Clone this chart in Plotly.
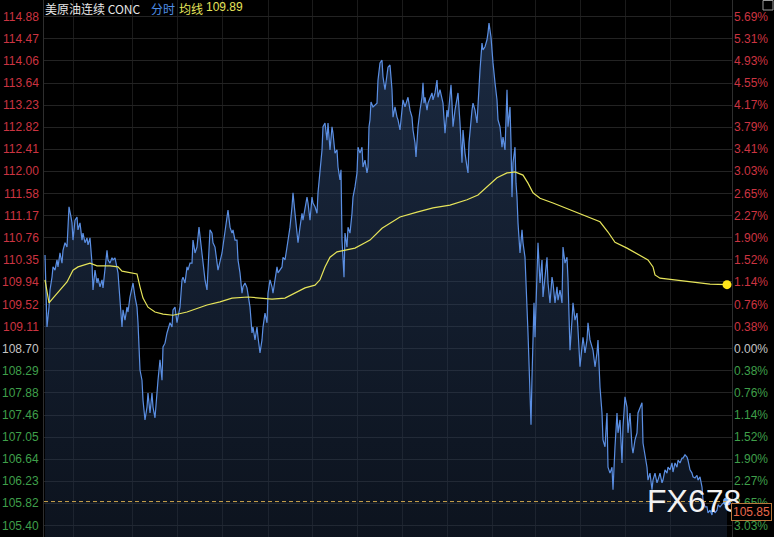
import plotly.graph_objects as go

# ---------------- data ----------------
minutes = [0, 2, 4, 8, 10, 14, 16, 20, 24, 26, 30, 34, 36, 40, 44, 46, 48, 52, 54, 56,
           60, 64, 66, 70, 74, 76, 80, 84, 86, 90, 94, 96, 100, 104, 106, 110, 114, 116, 120, 124,
           126, 130, 134, 136, 140, 144, 146, 150, 154, 156, 160, 164, 166, 170, 176, 180, 184, 186, 190, 194,
           196, 200, 204, 206, 210, 214, 216, 220, 224, 226, 230, 234, 236, 240, 244, 246, 250, 254, 256, 260,
           264, 266, 270, 274, 276, 280, 284, 286, 290, 294, 296, 300, 304, 308, 314, 316, 320, 324, 326, 330,
           334, 336, 340, 344, 346, 354, 360, 366, 370, 374, 376, 380, 384, 386, 390, 394, 396, 400, 404, 406,
           410, 414, 416, 420, 424, 426, 430, 434, 436, 440, 444, 446, 450, 454, 456, 460, 464, 466, 470, 474,
           476, 480, 484, 486, 490, 494, 496, 500, 504, 506, 510, 514, 516, 520, 524, 526, 530, 534, 536, 540,
           544, 546, 550, 554, 556, 560, 564, 566, 570, 574, 576, 580, 584, 586, 590, 592, 594, 598, 600, 604,
           606, 610, 614, 616, 620, 624, 626, 630, 634, 636, 640, 644, 646, 648, 650, 652, 656, 660, 664, 666,
           670, 674, 676, 680, 684, 686, 690, 694, 696, 700, 704, 706, 710, 714, 716, 720, 724, 726, 730, 734,
           736, 740, 742, 744, 746, 750, 754, 756, 758, 760, 764, 766, 770, 774, 776, 780, 784, 786, 790, 794,
           796, 800, 804, 806, 810, 812, 814, 816, 820, 824, 826, 830, 834, 836, 840, 844, 846, 848, 852, 854,
           856, 860, 864, 866, 870, 874, 876, 880, 884, 886, 888, 892, 894, 896, 900, 904, 906, 910, 914, 916,
           920, 924, 926, 930, 932, 934, 936, 940, 942, 944, 946, 950, 954, 956, 960, 964, 966, 970, 972, 974,
           976, 978, 980, 984, 986, 990, 994, 996, 1000, 1004, 1006, 1010, 1014, 1016, 1020, 1024, 1026, 1030, 1034, 1036,
           1040, 1044, 1046, 1050, 1054, 1056, 1060, 1064, 1066, 1070, 1074, 1076, 1080, 1084, 1086, 1090, 1094, 1096, 1100, 1104,
           1106, 1110, 1114, 1116, 1120, 1124, 1126, 1130, 1134, 1136, 1140, 1144, 1146, 1150, 1154, 1156, 1160, 1164, 1166, 1170,
           1174, 1176, 1180, 1184, 1186, 1190, 1194, 1196, 1200, 1204, 1206, 1210, 1214, 1216, 1220, 1224, 1226, 1230, 1234, 1236,
           1240, 1244, 1246, 1250, 1254, 1256, 1260, 1264, 1266, 1270, 1274, 1276, 1280, 1284, 1286, 1290, 1294, 1296, 1300, 1304,
           1306, 1310, 1314, 1316, 1320, 1324, 1326, 1330, 1334, 1336, 1340, 1344, 1346, 1350, 1356, 1364]

price = [110.44, 109.79, 109.10, 109.47, 109.79, 110.03, 110.22, 110.16, 110.35, 110.22, 110.48, 110.29, 110.53, 110.67, 110.59, 110.96, 111.34, 111.15, 111.04, 110.72,
         111.09, 111.15, 110.91, 111.04, 110.72, 110.85, 110.67, 110.76, 110.63, 110.76, 110.29, 109.79, 110.16, 109.92, 110.01, 109.85, 109.98, 109.83, 110.16, 110.53,
         110.35, 110.29, 110.39, 110.35, 110.39, 110.22, 110.11, 109.60, 109.10, 109.42, 109.23, 109.47, 109.38, 109.66, 109.92, 109.66, 109.47, 109.18, 108.30, 108.11,
         107.74, 107.37, 107.61, 107.87, 107.50, 107.87, 107.61, 107.41, 107.98, 108.11, 108.49, 108.11, 108.73, 108.80, 108.99, 109.05, 109.18, 109.10, 109.42, 109.47,
         109.18, 109.29, 109.47, 109.98, 110.03, 109.92, 110.22, 110.16, 110.29, 110.29, 110.72, 110.48, 110.59, 110.96, 110.48, 110.22, 109.98, 109.79, 110.22, 110.91,
         110.85, 110.67, 110.59, 110.35, 110.16, 110.48, 110.85, 111.28, 110.96, 110.85, 110.91, 110.72, 110.72, 110.35, 110.11, 109.73, 109.85, 109.92, 109.83, 109.73,
         109.47, 108.99, 109.10, 108.86, 109.10, 108.91, 108.62, 108.86, 109.10, 109.36, 109.18, 109.73, 109.98, 109.85, 109.73, 109.98, 110.22, 110.11, 110.16, 110.22,
         110.40, 110.35, 110.59, 110.72, 110.96, 111.34, 111.60, 111.22, 110.85, 110.67, 110.96, 111.22, 111.09, 111.28, 111.52, 111.41, 111.09, 111.52, 111.41, 111.34,
         111.22, 111.60, 111.97, 112.40, 112.83, 112.90, 112.58, 112.90, 112.40, 112.83, 112.71, 112.34, 112.40, 112.08, 111.84, 112.03, 110.72, 110.03, 110.85, 110.59,
         110.96, 110.85, 111.22, 111.52, 111.71, 111.97, 112.45, 112.34, 112.45, 112.08, 112.21, 111.97, 112.08, 112.83, 112.96, 113.29, 113.20, 113.24, 113.27, 113.70,
         114.02, 114.07, 113.76, 113.52, 113.83, 113.94, 113.98, 113.52, 113.01, 113.20, 113.01, 112.96, 112.77, 113.14, 113.33, 113.20, 113.33, 113.38, 113.14, 113.01,
         112.77, 112.53, 112.27, 112.64, 112.83, 113.14, 113.38, 113.65, 113.27, 113.38, 113.14, 113.27, 113.38, 113.46, 113.33, 113.46, 113.70, 113.38, 113.52, 113.33,
         113.27, 112.71, 113.14, 113.01, 113.52, 113.61, 113.27, 112.83, 113.14, 113.33, 113.46, 112.90, 112.16, 112.77, 112.34, 112.08, 111.97, 112.53, 113.01, 113.14,
         113.27, 113.14, 112.90, 113.27, 113.89, 114.39, 114.26, 114.32, 114.45, 114.58, 114.76, 114.50, 114.13, 114.02, 113.65, 113.33, 112.96, 112.83, 112.45, 112.64,
         112.40, 113.52, 112.83, 113.20, 112.53, 111.52, 112.16, 112.45, 111.78, 111.52, 111.04, 110.48, 110.91, 110.67, 110.40, 109.60, 108.99, 107.87, 107.28, 108.17,
         109.10, 109.55, 108.91, 110.03, 110.67, 109.92, 110.35, 109.66, 110.03, 110.40, 109.92, 109.55, 110.03, 109.92, 109.55, 109.85, 109.60, 109.79, 109.55, 110.59,
         110.29, 110.40, 109.98, 108.67, 109.23, 109.55, 109.23, 109.36, 109.05, 108.36, 108.73, 108.91, 108.62, 108.86, 109.18, 108.86, 108.73, 108.67, 108.36, 108.62,
         108.86, 107.98, 107.50, 107.00, 106.87, 107.50, 106.49, 106.38, 106.49, 106.07, 106.87, 107.50, 107.13, 107.37, 106.57, 107.24, 107.80, 107.61, 107.13, 107.50,
         106.87, 106.75, 107.00, 107.13, 107.50, 107.61, 107.69, 106.94, 106.75, 106.49, 106.25, 106.38, 106.07, 106.25, 106.38, 106.20, 106.25, 106.38, 106.20, 106.25,
         106.44, 106.38, 106.49, 106.44, 106.57, 106.40, 106.57, 106.49, 106.62, 106.57, 106.66, 106.66, 106.72, 106.68, 106.62, 106.44, 106.38, 106.31, 106.29, 106.34,
         106.25, 106.31, 106.12, 105.88, 105.75, 105.75, 105.64, 105.69, 105.60, 105.75, 105.64, 105.69, 105.79, 105.75, 105.82, 105.85]

avg_minutes = [0, 4, 8, 16, 30, 44, 56, 66, 90, 104, 130, 146, 154, 184, 190, 196, 206, 220, 236, 256,
               284, 324, 350, 374, 406, 426, 454, 480, 500, 520, 540, 550, 560, 570, 584, 600, 620, 640, 650, 674,
               700, 710, 744, 776, 810, 844, 866, 884, 904, 924, 940, 956, 966, 976, 990, 1016, 1050, 1084, 1110, 1126,
               1140, 1164, 1190, 1206, 1216, 1220, 1230, 1256, 1296, 1330, 1364]
avg_price = [109.98, 109.73, 109.55, 109.64, 109.79, 109.94, 110.16, 110.22, 110.29, 110.24, 110.24, 110.22, 110.14, 110.09, 109.85, 109.64, 109.47, 109.38, 109.34, 109.32,
             109.38, 109.51, 109.57, 109.64, 109.66, 109.64, 109.62, 109.64, 109.73, 109.83, 109.88, 109.98, 110.22, 110.40, 110.50, 110.53, 110.57, 110.67, 110.72, 110.94,
             111.09, 111.15, 111.24, 111.32, 111.37, 111.47, 111.56, 111.71, 111.88, 111.97, 111.99, 111.93, 111.78, 111.60, 111.50, 111.41, 111.28, 111.15, 111.06, 110.87,
             110.68, 110.57, 110.44, 110.35, 110.22, 110.07, 110.01, 109.98, 109.94, 109.90, 109.89]

price_ticks = [114.88, 114.47, 114.06, 113.64, 113.23, 112.82, 112.41, 112.00, 111.58, 111.17, 110.76, 110.35,
               109.94, 109.52, 109.11, 108.70, 108.29, 107.88, 107.46, 107.05, 106.64, 106.23, 105.82, 105.40]
price_labels = ["114.88", "114.47", "114.06", "113.64", "113.23", "112.82", "112.41", "112.00", "111.58", "111.17", "110.76", "110.35",
                "109.94", "109.52", "109.11", "108.70", "108.29", "107.88", "107.46", "107.05", "106.64", "106.23", "105.82", "105.40"]
pct_labels = ["5.69%", "5.31%", "4.93%", "4.55%", "4.17%", "3.79%", "3.41%", "3.03%", "2.65%", "2.27%", "1.90%", "1.52%",
              "1.14%", "0.76%", "0.38%", "0.00%", "0.38%", "0.76%", "1.14%", "1.52%", "1.90%", "2.27%", "2.65%", "3.03%"]
base_price = 108.70
last_price = 105.85
avg_last = 109.89
grid_minutes = [56, 174, 264, 354, 446, 534, 624, 714, 804, 894, 980, 1070, 1160, 1250]

# ---------------- styling ----------------
W, H = 774, 537
ML, MR = 44, 42
PW = W - ML - MR
RED = "#cc3441"
GREEN = "#3f9f4a"
GREY = "#c4c4c4"
NUM_FONT = "Liberation Sans, Arial, sans-serif"
CJK_FONT = "Noto Sans CJK SC, sans-serif"


def px_x(p):
    return (p - ML) / PW


def px_y(p):
    return 1 - p / H


fig = go.Figure()
fig.add_trace(go.Scatter(
    x=minutes, y=price, mode="lines",
    line=dict(color="#5b8fe3", width=1.2),
    fill="tozeroy",
    fillgradient=dict(type="vertical", start=105.19, stop=115.0,
                      colorscale=[[0, "rgba(30,46,72,0.42)"], [1, "rgba(50,78,122,0.55)"]]),
    hoverinfo="skip", showlegend=False))
fig.add_trace(go.Scatter(
    x=avg_minutes, y=avg_price, mode="lines",
    line=dict(color="#e6e45a", width=1.2), hoverinfo="skip", showlegend=False))
fig.add_trace(go.Scatter(
    x=[avg_minutes[-1]], y=[avg_last], mode="markers",
    marker=dict(color="#ffe61a", size=9), hoverinfo="skip", showlegend=False))
fig.add_trace(go.Scatter(
    x=[minutes[-1]], y=[last_price], mode="markers",
    marker=dict(color="#74a9f5", size=8), hoverinfo="skip", showlegend=False))

annotations = []
for v, lab, pl in zip(price_ticks, price_labels, pct_labels):
    col = RED if v > base_price + 1e-9 else (GREY if abs(v - base_price) < 1e-9 else GREEN)
    annotations.append(dict(x=0, xref="paper", y=v, yref="y", text=lab, showarrow=False,
                            xanchor="right", yanchor="middle", xshift=-3,
                            font=dict(family=NUM_FONT, size=12, color=col)))
    annotations.append(dict(x=1, xref="paper", y=v, yref="y", text=pl, showarrow=False,
                            xanchor="left", yanchor="middle", xshift=0,
                            font=dict(family=NUM_FONT, size=12, color=col)))

# header
annotations += [
    dict(x=px_x(43), xref="paper", y=1, yref="paper", yanchor="top", xanchor="left", yshift=2,
         text="美原油连续 CONC", showarrow=False, font=dict(family=CJK_FONT, size=12, color="#e6e6e6")),
    dict(x=px_x(149), xref="paper", y=1, yref="paper", yanchor="top", xanchor="left", yshift=2,
         text="分时", showarrow=False, font=dict(family=CJK_FONT, size=12, color="#4f8fe6")),
    dict(x=px_x(177), xref="paper", y=1, yref="paper", yanchor="top", xanchor="left", yshift=2,
         text="均线", showarrow=False, font=dict(family=CJK_FONT, size=12, color="#e6e45a")),
    dict(x=px_x(204), xref="paper", y=1, yref="paper", yanchor="top", xanchor="left", yshift=2,
         text=f"{avg_last:.2f}", showarrow=False, font=dict(family=NUM_FONT, size=12, color="#e6e45a")),
]

# watermark
annotations.append(dict(x=px_x(694), xref="paper", y=px_y(501), yref="paper",
                        text="FX678", showarrow=False, xanchor="center", yanchor="middle",
                        font=dict(family=NUM_FONT, size=32, color="#f2f2f2")))
# last price tag
annotations.append(dict(x=1, xref="paper", y=px_y(512), yref="paper", text=f"{last_price:.2f}",
                        showarrow=False, xanchor="left", yanchor="middle", xshift=-1,
                        bgcolor="#000000", bordercolor="#b8773c", borderwidth=1, borderpad=1,
                        font=dict(family=NUM_FONT, size=12, color="#e8694b")))

shapes = [
    dict(type="line", xref="paper", x0=0, x1=1, yref="y", y0=last_price, y1=last_price,
         line=dict(color="#caa24c", width=1, dash="4px,3px")),
    dict(type="rect", xref="paper", x0=px_x(763), x1=px_x(773), yref="paper", y0=px_y(10), y1=px_y(0.5),
         line=dict(color="#9a9a9a", width=1), fillcolor="rgba(0,0,0,0)"),
]

fig.update_layout(
    width=W, height=H,
    margin=dict(l=ML, r=MR, t=0, b=0),
    paper_bgcolor="#000000", plot_bgcolor="#000000",
    hovermode=False, showlegend=False,
    xaxis=dict(range=[-2, 1374], tickvals=grid_minutes, showticklabels=False, ticks="",
               showgrid=True, gridcolor="#1b1b1b", gridwidth=1, zeroline=False, showline=False),
    yaxis=dict(range=[105.19, 115.191], tickvals=price_ticks, showticklabels=False, ticks="",
               showgrid=True, gridcolor="#232323", gridwidth=1, zeroline=False,
               showline=True, mirror=True, linecolor="#2e2e2e", linewidth=1),
    annotations=annotations, shapes=shapes,
)

fig.write_html("out.html", config={"displayModeBar": False, "staticPlot": True},
               post_script="document.body.style.margin='0px';document.body.style.background='#000';")
